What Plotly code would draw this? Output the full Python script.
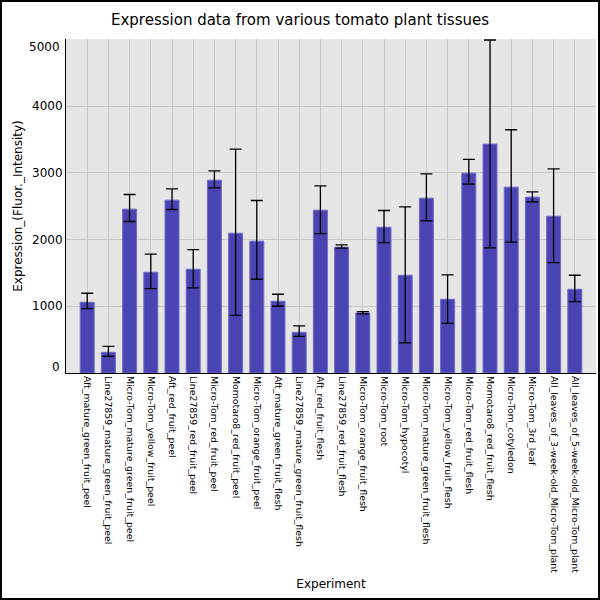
import plotly.graph_objects as go

# tissues on the x axis
experiments = [
    "Aft_mature_green_fruit_peel", "Line27859_mature_green_fruit_peel",
    "Micro-Tom_mature_green_fruit_peel", "Micro-Tom_yellow_fruit_peel",
    "Aft_red_fruit_peel", "Line27859_red_fruit_peel", "Micro-Tom_red_fruit_peel",
    "Momotaro8_red_fruit_peel", "Micro-Tom_orange_fruit_peel",
    "Aft_mature_green_fruit_flesh", "Line27859_mature_green_fruit_flesh",
    "Aft_red_fruit_flesh", "Line27859_red_fruit_flesh", "Micro-Tom_orange_fruit_flesh",
    "Micro-Tom_root", "Micro-Tom_hypocotyl", "Micro-Tom_mature_green_fruit_flesh",
    "Micro-Tom_yellow_fruit_flesh", "Micro-Tom_red_fruit_flesh",
    "Momotaro8_red_fruit_flesh", "Micro-Tom_cotyledon", "Micro-Tom_3rd_leaf",
    "All_leaves_of_3-week-old_Micro-Tom_plant", "All_leaves_of_5-week-old_Micro-Tom_plant",
]
expression = [1060, 310, 2455, 1510, 2590, 1555, 2890, 2095, 1975, 1075, 610, 2440,
              1885, 900, 2185, 1465, 2620, 1105, 2995, 3430, 2785, 2635, 2350, 1255]
upper = [1195, 400, 2675, 1780, 2760, 1850, 3030, 3355, 2585, 1180, 705, 2805,
         1920, 920, 2435, 2490, 2985, 1470, 3200, 4990, 3645, 2715, 3060, 1465]
lower = [965, 250, 2270, 1265, 2450, 1275, 2775, 865, 1405, 1000, 550, 2090,
         1870, 885, 1955, 450, 2280, 745, 2830, 1875, 1960, 2565, 1655, 1070]
yticks = [0, 1000, 2000, 3000, 4000, 5000]

err_plus = [u - m for u, m in zip(upper, expression)]
err_minus = [m - l for m, l in zip(expression, lower)]

fig = go.Figure()
fig.add_trace(go.Bar(
    x=experiments, y=expression, width=0.66,
    marker=dict(color="rgb(74,68,178)", line=dict(color="rgb(112,108,200)", width=1)),
    error_y=dict(type="data", symmetric=False, array=err_plus, arrayminus=err_minus,
                 color="black", thickness=1.3, width=6),
))

L, R, T, B = 66, 4, 39, 227
W = H = 600
pw, ph = W - L - R, H - T - B
# black frame round the whole figure
fig.add_shape(type="rect", xref="paper", yref="paper",
              x0=(1 - L) / pw, x1=(W - L - 1) / pw,
              y0=-(B - 1) / ph, y1=1 + (T - 1) / ph,
              line=dict(color="black", width=2), layer="above")

# end tick labels sit a little inside the axis, as in the original
ticktext = [str(v) for v in yticks]
ticktext[0] = ticktext[-1] = ""
for v, shift in [(yticks[0], 6), (yticks[-1], -8)]:
    fig.add_annotation(text=str(v), xref="paper", x=0, y=v, yref="y",
                       xanchor="right", yanchor="middle", xshift=-4, yshift=shift,
                       showarrow=False, font=dict(size=12))

fig.update_layout(
    width=W, height=H, margin=dict(l=L, r=R, t=T, b=B),
    paper_bgcolor="white", plot_bgcolor="#e6e6e6",
    font=dict(family="DejaVu Sans", color="black", size=12),
    title=dict(text="Expression data from various tomato plant tissues",
               x=0.5, xanchor="center", y=1 - 20 / H, yanchor="middle",
               font=dict(size=15)),
    showlegend=False,
)
fig.update_xaxes(
    range=[-1, len(experiments)], tickangle=90, tickfont=dict(size=9.4),
    showgrid=True, gridcolor="#c8c8c8", gridwidth=1,
    showline=True, linecolor="black", linewidth=1, ticks="",
    title=dict(text="Experiment", standoff=7, font=dict(size=12)),
    automargin=False,
)
fig.update_yaxes(
    range=[0, 5005], tickvals=yticks, ticktext=ticktext, tickfont=dict(size=12),
    showgrid=True, gridcolor="#c8c8c8", gridwidth=1, zeroline=False,
    showline=True, linecolor="black", linewidth=1, ticks="",
    title=dict(text="Expression_(Fluor._Intensity)", standoff=6, font=dict(size=12)),
    automargin=False,
)
fig.write_html("out.html", config={"displayModeBar": False},
               post_script="document.body.style.margin='0';")
